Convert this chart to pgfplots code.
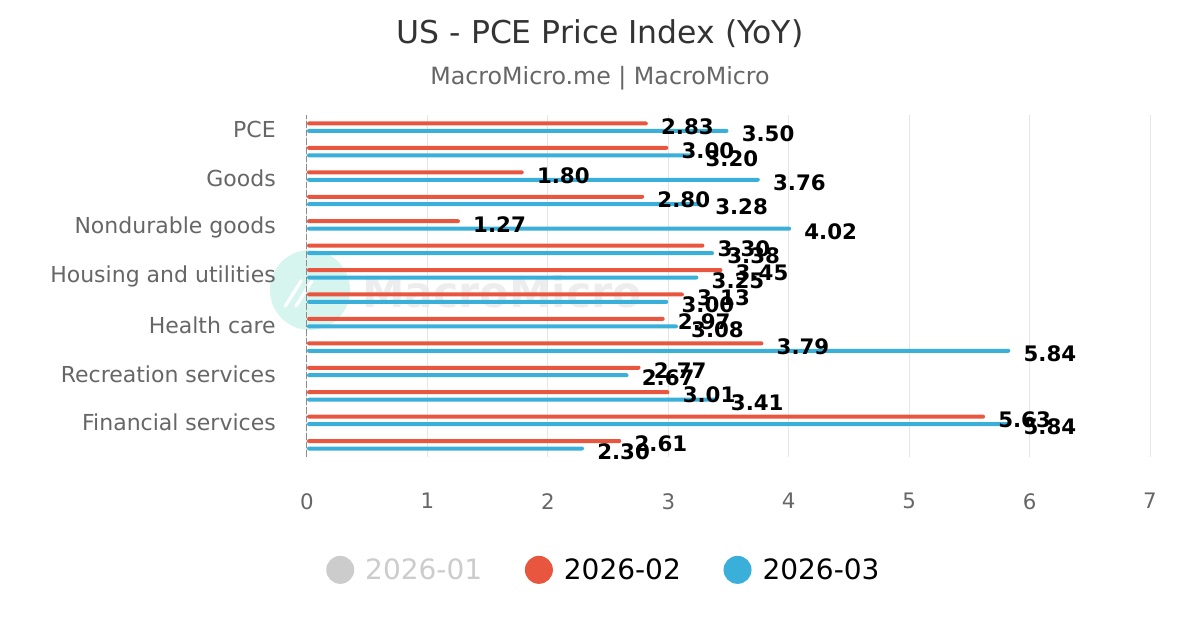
\documentclass[border=0pt]{standalone}
\usepackage{fontspec}
\setmainfont{DejaVu Sans}
\usepackage{pgfplots}
\usepackage{pgfplotstable}
\pgfplotsset{compat=1.18}

\definecolor{febred}{HTML}{E9563F}
\definecolor{marblue}{HTML}{3AAFDA}
\definecolor{hiddengrey}{HTML}{CCCCCC}
\definecolor{txtgrey}{HTML}{666666}
\definecolor{titlegrey}{HTML}{333333}
\definecolor{gridgrey}{HTML}{E6E6E6}
\definecolor{mint}{HTML}{D6F5EE}

% YoY change (%), one row per category, top row at pos = 13
\pgfplotstableread{
pos feb  mar
13  2.83 3.50
12  3.00 3.20
11  1.80 3.76
10  2.80 3.28
9   1.27 4.02
8   3.30 3.38
7   3.45 3.25
6   3.13 3.00
5   2.97 3.08
4   3.79 5.84
3   2.77 2.67
2   3.01 3.41
1   5.63 5.84
0   2.61 2.30
}\pcedata

\begin{document}
\begin{tikzpicture}
\useasboundingbox (0,0) rectangle (900pt,472.5pt);

% watermark
\fill[mint] (232.5pt,255pt) circle (30pt);
\draw[white,line width=2.5pt,line cap=round] (214pt,243pt) -- (226pt,262pt);
\draw[white,line width=2.5pt,line cap=round] (222pt,243pt) -- (234pt,262pt);
\node[text=black!7,font=\bfseries\fontsize{32}{32}\selectfont] at (376.5pt,253.5pt) {MacroMicro};

\begin{axis}[
  at={(230.25pt,129.75pt)}, anchor=south west,
  width=632.25pt, height=256.5pt, scale only axis,
  xbar, bar width=3pt,
  xmin=0, xmax=7, ymin=-0.5, ymax=13.5,
  xtick={0,...,7}, ytick={0,...,13},
  yticklabels={,Financial services,,Recreation services,,Health care,,Housing and utilities,,Nondurable goods,,Goods,,PCE},
  major tick length=0pt,
  axis line style={draw=none},
  xmajorgrids,
  grid style={draw=gridgrey,line width=0.75pt},
  extra x ticks={0}, extra x tick labels={},
  extra x tick style={grid style={draw=black!45,dash pattern=on 5pt off 1.5pt,line width=0.75pt}},
  /pgf/number format/assume math mode=true,
  xticklabel style={font=\fontsize{16}{16}\selectfont,text=txtgrey,inner sep=0pt,anchor=north,yshift=-27pt},
  yticklabel style={font=\fontsize{16.5}{16.5}\selectfont,text=txtgrey,inner sep=0pt,anchor=east,xshift=-23.25pt,yshift=-1.8pt},
  point meta=x,
  nodes near coords={\pgfmathprintnumber[fixed,fixed zerofill,precision=2]{\pgfplotspointmeta}},
  nodes near coords style={anchor=west,inner sep=0pt,xshift=9.75pt,yshift=-2.25pt,font=\bfseries\fontsize{16}{16}\selectfont,text=black},
  legend style={at={(axis description cs:0.351,-0.330)},anchor=center,draw=none,fill=none,
    legend columns=3,font=\fontsize{21}{21}\selectfont,
    column sep=8.25pt,
    /tikz/every even column/.append style={column sep=32pt},
    nodes={inner sep=0pt,anchor=west}},
  legend image code/.code={\fill[#1] (10.5pt,0pt) circle (10.5pt);},
  clip=false,
]
\addlegendimage{fill=hiddengrey,draw=none}
\addlegendentry{\textcolor{hiddengrey}{2026-01}}

\addplot[fill=febred,draw=none,rounded corners=1.5pt,bar shift=2.8pt]
  table[x=feb,y=pos]{\pcedata};
\addlegendentry{2026-02}

\addplot[fill=marblue,draw=none,rounded corners=1.5pt,bar shift=-2.8pt]
  table[x=mar,y=pos]{\pcedata};
\addlegendentry{2026-03}
\end{axis}

\node[text=titlegrey,font=\fontsize{23.6}{23.6}\selectfont] at (450pt,447pt) {US - PCE Price Index (YoY)};
\node[text=txtgrey,font=\fontsize{17.8}{17.8}\selectfont] at (450pt,414pt) {MacroMicro.me | MacroMicro};
\end{tikzpicture}
\end{document}
